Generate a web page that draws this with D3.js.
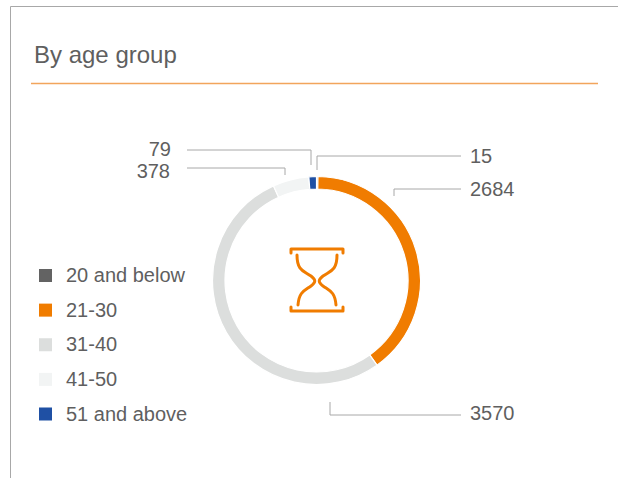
<!DOCTYPE html>
<html><head><meta charset="utf-8">
<script src="https://cdn.jsdelivr.net/npm/d3@7/dist/d3.min.js"></script>
<style>html,body{margin:0;padding:0;background:#fff}svg{display:block}text{font-family:"Liberation Sans",Arial,sans-serif;fill:#5f5f5f}</style>
</head><body><div id="c"></div>
<script>
const categories = ["20 and below","21-30","31-40","41-50","51 and above"];
const values = [15,2684,3570,378,79];
const colors = ["#636363","#f07c00","#dcdedd","#f2f4f4","#1f50a4"];
const title = "By age group";
const leaderPaths = [
 [[317,170],[317,156],[461,156]],
 [[394,196],[394,189],[461,189]],
 [[330,402],[330,415],[461,415]],
 [[285,175],[285,168],[187,168]],
 [[311,165],[311,150],[187,150]]
];
const labelPos = [[470,156,"start"],[470,188.5,"start"],[470,413,"start"],[170,171,"end"],[171,149,"end"]];

const W=618,H=478,cx=316.5,cy=280.5;
const svg=d3.select("#c").append("svg").attr("width",W).attr("height",H);

svg.append("path").attr("d","M10.5 478V6.5H618").attr("fill","none").attr("stroke","#a8a8a8").attr("stroke-width",1);
svg.append("text").attr("x",34).attr("y",63).attr("font-size",24).text(title);
svg.append("line").attr("x1",31).attr("x2",598).attr("y1",83.5).attr("y2",83.5).attr("stroke","#f2a55c").attr("stroke-width",1.3);

const pie=d3.pie().sort(null).value(d=>d);
const arc=d3.arc().innerRadius(91.5).outerRadius(104);
const g=svg.append("g").attr("transform",`translate(${cx},${cy})`);
g.selectAll("path").data(pie(values)).join("path")
 .attr("d",arc).attr("fill",(d,i)=>colors[i]).attr("stroke","#fff").attr("stroke-width",1.2);

const line=d3.line();
svg.selectAll("path.leader").data(leaderPaths).join("path").attr("class","leader")
 .attr("d",line).attr("fill","none").attr("stroke","#a8a8a8").attr("stroke-width",1);
svg.selectAll("text.val").data(values).join("text").attr("class","val")
 .attr("x",(d,i)=>labelPos[i][0]).attr("y",(d,i)=>labelPos[i][1]+7)
 .attr("text-anchor",(d,i)=>labelPos[i][2]).attr("font-size",20).text(d=>d);

const ly=d3.scalePoint().domain(categories).range([275.5,414]);
const lg=svg.selectAll("g.leg").data(categories).join("g").attr("class","leg")
 .attr("transform",d=>`translate(0,${ly(d)})`);
lg.append("rect").attr("x",39).attr("y",-6.5).attr("width",13).attr("height",13).attr("fill",(d,i)=>colors[i]);
lg.append("text").attr("x",66).attr("y",6.5).attr("font-size",20).text(d=>d);

const ic=svg.append("g").attr("fill","none").attr("stroke","#f07c00").attr("stroke-width",3).attr("stroke-linecap","round").attr("stroke-linejoin","round");
ic.append("path").attr("d","M291 253V249H343V253");
ic.append("path").attr("d","M291 307V311H343V307");
ic.append("path").attr("d","M297 255C297 271 304 271 311 276C316 280 316 282 311 286C304 291 299 292 298 305");
ic.append("path").attr("d","M337 255C337 271 330 271 323 276C318 280 318 282 323 286C330 291 335 292 336 305");
</script></body></html>
